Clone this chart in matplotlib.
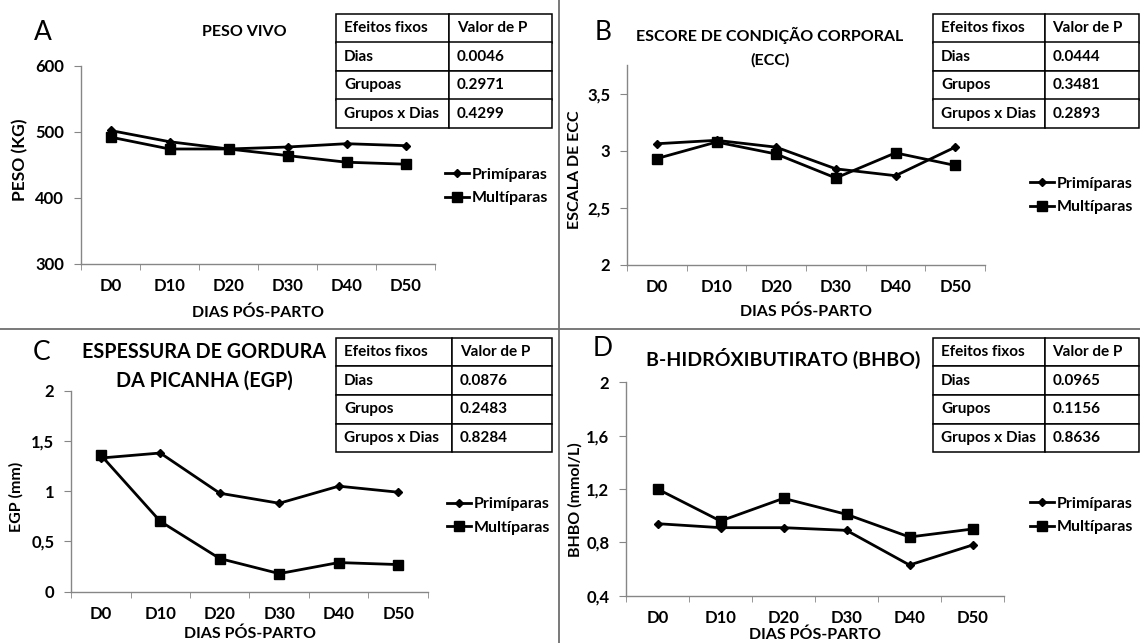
import matplotlib
matplotlib.use('Agg')
import matplotlib.pyplot as plt
from matplotlib.lines import Line2D

plt.rcParams['font.family'] = ['Lato', 'DejaVu Sans']

W, H = 1140, 643

days = ['D0', 'D10', 'D20', 'D30', 'D40', 'D50']
series_names = ['Primíparas', 'Multíparas']

peso_prim = [502, 485, 474, 477, 482, 479]
peso_mult = [492, 474, 474, 464, 454, 451]
ecc_prim = [3.06, 3.09, 3.03, 2.84, 2.78, 3.03]
ecc_mult = [2.93, 3.075, 2.97, 2.76, 2.98, 2.87]
egp_prim = [1.33, 1.38, 0.98, 0.88, 1.05, 0.99]
egp_mult = [1.36, 0.70, 0.33, 0.18, 0.29, 0.27]
bhbo_prim = [0.94, 0.91, 0.91, 0.89, 0.63, 0.78]
bhbo_mult = [1.20, 0.96, 1.13, 1.01, 0.84, 0.90]

yt_peso = [300, 400, 500, 600]
yl_peso = ['300', '400', '500', '600']
yt_ecc = [2, 2.5, 3, 3.5]
yl_ecc = ['2', '2,5', '3', '3,5']
yt_egp = [0, 0.5, 1, 1.5, 2]
yl_egp = ['0', '0,5', '1', '1,5', '2']
yt_bhbo = [0.4, 0.8, 1.2, 1.6, 2]
yl_bhbo = ['0,4', '0,8', '1,2', '1,6', '2']

tab_header = ['Efeitos fixos', 'Valor de P']
tab_effects_A = ['Dias', 'Grupoas', 'Grupos x Dias']
tab_effects = ['Dias', 'Grupos', 'Grupos x Dias']
pvals_A = ['0.0046', '0.2971', '0.4299']
pvals_B = ['0.0444', '0.3481', '0.2893']
pvals_C = ['0.0876', '0.2483', '0.8284']
pvals_D = ['0.0965', '0.1156', '0.8636']

fig = plt.figure(figsize=(W / 100, H / 100), dpi=100)
fig.patch.set_facecolor('white')

GRAY = '#868686'


def rect(x0, y0, x1, y1):
    return [x0 / W, 1 - y1 / H, (x1 - x0) / W, (y1 - y0) / H]


def fx(x):
    return x / W


def fy(y):
    return 1 - y / H


def panel(box, ylim, yt, yl, prim, mult, leg_xy):
    ax = fig.add_axes(rect(*box))
    x = list(range(len(days)))
    lp, = ax.plot(x, prim, color='black', lw=2, marker='D', ms=4.5,
                  label=series_names[0])
    lm, = ax.plot(x, mult, color='black', lw=2, marker='s', ms=7,
                  label=series_names[1])
    ax.set_xlim(-0.5, len(days) - 0.5)
    ax.set_ylim(*ylim)
    ax.set_yticks(yt)
    ax.set_yticklabels(yl, fontsize=12, fontweight='bold')
    ax.set_xticks(x)
    ax.set_xticklabels(days, fontsize=12, fontweight='bold')
    ax.set_xticks([i - 0.5 for i in range(len(days) + 1)], minor=True)
    ax.tick_params(axis='x', which='major', length=0, pad=10)
    ax.tick_params(axis='x', which='minor', length=4.5, color=GRAY, direction='out')
    ax.tick_params(axis='y', which='major', length=5, color=GRAY, pad=7)
    for s in ['top', 'right']:
        ax.spines[s].set_visible(False)
    for s in ['left', 'bottom']:
        ax.spines[s].set_color(GRAY)
        ax.spines[s].set_linewidth(1)
    ax.patch.set_alpha(0)
    ax.legend(handles=[lp, lm], loc='center left',
              bbox_to_anchor=(fx(leg_xy[0]), fy(leg_xy[1])),
              bbox_transform=fig.transFigure, frameon=False,
              borderpad=0, borderaxespad=0, handlelength=1.5,
              handletextpad=0.15, labelspacing=0.6,
              prop={'weight': 'bold', 'size': 11.5})
    return ax


def table(box, col_split, effects, pvals):
    x0, y0, x1, y1 = box
    tax = fig.add_axes(rect(*box))
    tax.axis('off')
    rows = [tab_header] + [[e, p] for e, p in zip(effects, pvals)]
    w1 = (col_split - x0) / (x1 - x0)
    t = tax.table(cellText=rows, bbox=[0, 0, 1, 1], colWidths=[w1, 1 - w1],
                  cellLoc='left')
    t.auto_set_font_size(False)
    for (r, c), cell in t.get_celld().items():
        cell.set_edgecolor('black')
        cell.set_linewidth(1.1)
        cw = (col_split - x0) if c == 0 else (x1 - col_split)
        cell.PAD = 8 / cw
        cell.get_text().set_fontsize(11)
        cell.get_text().set_fontweight('bold')
    return tax


panel((81, 65.7, 435, 264), (300, 600), yt_peso, yl_peso,
      peso_prim, peso_mult, (445, 186.5))
panel((627, 65, 985, 264.7), (2, 3.75), yt_ecc, yl_ecc,
      ecc_prim, ecc_mult, (1030, 195.5))
panel((71, 390.7, 428, 591.7), (0, 2), yt_egp, yl_egp,
      egp_prim, egp_mult, (447, 516))
panel((626, 382.3, 1004, 595.7), (0.4, 2), yt_bhbo, yl_bhbo,
      bhbo_prim, bhbo_mult, (1030, 515.5))

table((336, 14, 552, 128), 449, tab_effects_A, pvals_A)
table((933, 14, 1139, 128), 1044.5, tab_effects, pvals_B)
table((336, 338, 552, 452), 452, tab_effects, pvals_C)
table((933, 338, 1139, 452), 1044.5, tab_effects, pvals_D)

# panel letters
for lab, x, y in [('A', 43, 32), ('B', 603, 33), ('C', 42, 352), ('D', 603, 349)]:
    fig.text(fx(x), fy(y), lab, fontsize=19, ha='center', va='center')

# titles
fig.text(fx(244), fy(32), 'PESO VIVO', fontsize=11.5, fontweight='bold',
         ha='center', va='center')
fig.text(fx(770), fy(35), 'ESCORE DE CONDIÇÃO CORPORAL', fontsize=11.5,
         fontweight='bold', ha='center', va='center')
fig.text(fx(770), fy(60), '(ECC)', fontsize=11.5, fontweight='bold',
         ha='center', va='center')
fig.text(fx(204), fy(352), 'ESPESSURA DE GORDURA', fontsize=14.2,
         fontweight='bold', ha='center', va='center')
fig.text(fx(204), fy(381), 'DA PICANHA (EGP)', fontsize=14.2,
         fontweight='bold', ha='center', va='center')
fig.text(fx(783), fy(358), 'B-HIDRÓXIBUTIRATO (BHBO)', fontsize=14,
         fontweight='bold', ha='center', va='center')

# axis labels
for txt, x, y in [('DIAS PÓS-PARTO', 258, 313), ('DIAS PÓS-PARTO', 806, 312),
                  ('DIAS PÓS-PARTO', 250, 634), ('DIAS PÓS-PARTO', 815, 635)]:
    fig.text(fx(x), fy(y), txt, fontsize=11.5, fontweight='bold',
             ha='center', va='center')
for txt, x, y, fs in [('PESO (KG)', 20, 160, 12.5), ('ESCALA DE ECC', 575, 170, 11.5),
                      ('EGP (mm)', 16, 497, 11.5), ('BHBO (mmol/L)', 575, 500, 11.5)]:
    fig.text(fx(x), fy(y), txt, fontsize=fs, fontweight='bold', rotation=90,
             ha='center', va='center')

# dividers
fig.add_artist(Line2D([fx(559), fx(559)], [0, 1], color='#6e6e6e', lw=1.3))
fig.add_artist(Line2D([0, 1], [fy(329), fy(329)], color='#6e6e6e', lw=1.3))

fig.savefig('out.png', dpi=100, facecolor='white')
